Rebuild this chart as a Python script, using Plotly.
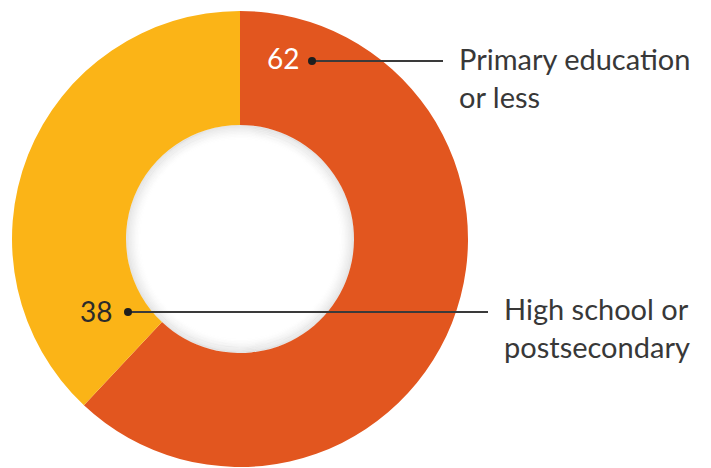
import plotly.graph_objects as go

# Data
categories = ["Primary education or less", "High school or postsecondary"]
values = [62, 38]
colors = ["#E2561F", "#FBB417"]
label_lines = [["Primary education", "or less"], ["High school or", "postsecondary"]]

W, H = 711, 468
cx, cy, R = 240, 239, 228
hole = 0.5

fig = go.Figure()
fig.add_trace(go.Pie(
    labels=categories, values=values, hole=hole, sort=False,
    direction="clockwise", rotation=0,
    marker=dict(colors=colors, line=dict(width=0)),
    textinfo="none", hoverinfo="label+value", showlegend=False,
    domain=dict(x=[(cx - R) / W, (cx + R) / W],
                y=[(H - cy - R) / H, (H - cy + R) / H]),
))

shapes = []
# soft inner shadow in the hole (thin rings fading inward)
r_hole = R * hole
n_rings = 10
for i in range(n_rings):
    r = r_hole - 0.5 - i * 1.5
    a = 0.10 * (1 - i / n_rings) ** 1.5
    shapes.append(dict(type="circle", xref="x", yref="y", layer="below",
                       x0=cx - r, x1=cx + r, y0=cy - r, y1=cy + r,
                       fillcolor="rgba(0,0,0,0)",
                       line=dict(width=1.6, color=f"rgba(0,0,0,{a:.3f})")))

# callout geometry (pixel positions on an overlay axis)
callouts = [
    dict(num_x=301, num_y=58, dot_x=312, y=61, end_x=443, text_x=457, text_y=77, numcolor="white"),
    dict(num_x=114, num_y=311, dot_x=128, y=312, end_x=488, text_x=502, text_y=327, numcolor="#2b2b2b"),
]
for v, lines, c in zip(values, label_lines, callouts):
    shapes.append(dict(type="line", xref="x", yref="y", layer="above",
                       x0=c["dot_x"], x1=c["end_x"], y0=c["y"], y1=c["y"],
                       line=dict(color="#3a3a3a", width=2)))
    shapes.append(dict(type="circle", xref="x", yref="y", layer="above",
                       x0=c["dot_x"] - 4, x1=c["dot_x"] + 4,
                       y0=c["y"] - 4, y1=c["y"] + 4,
                       fillcolor="#1e1e1e", line=dict(width=0)))
    fig.add_annotation(x=c["num_x"], y=c["num_y"], xref="x", yref="y", text=str(v),
                       showarrow=False, xanchor="right", yanchor="middle",
                       font=dict(family="Lato", size=28, color=c["numcolor"]))
    fig.add_annotation(x=c["text_x"], y=c["text_y"], xref="x", yref="y",
                       text="<br>".join(lines), showarrow=False,
                       xanchor="left", yanchor="middle", align="left",
                       font=dict(family="Lato", size=29, color="#383838"))

fig.update_layout(
    width=W, height=H, margin=dict(l=0, r=0, t=0, b=0),
    paper_bgcolor="white", plot_bgcolor="rgba(0,0,0,0)",
    xaxis=dict(range=[0, W], visible=False, fixedrange=True),
    yaxis=dict(range=[H, 0], visible=False, fixedrange=True),
    shapes=shapes,
)
fig.write_html("out.html")
